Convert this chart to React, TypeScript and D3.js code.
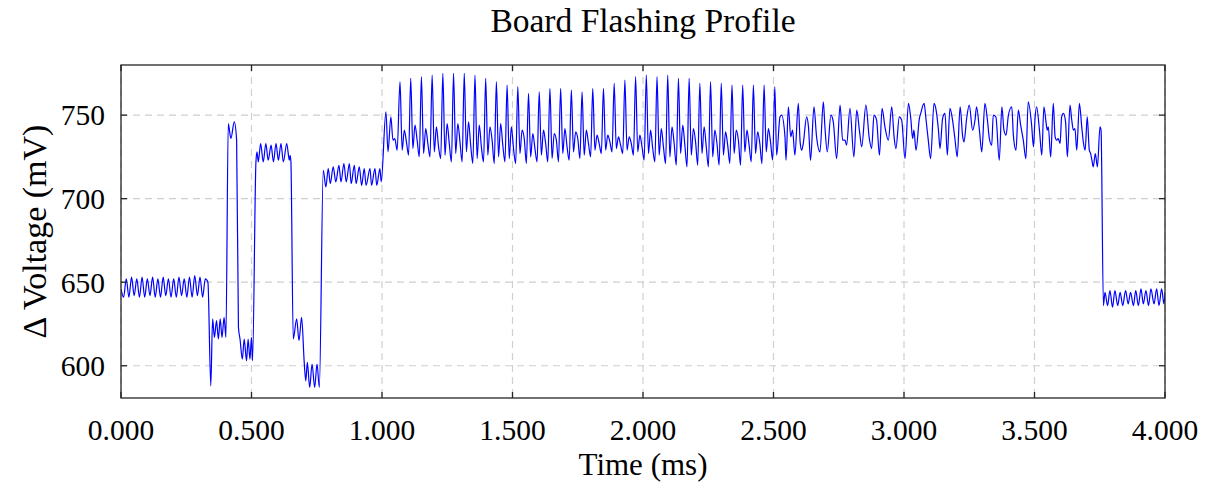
import React from "react";
import * as d3 from "d3";

const WIDTH = 1209;
const HEIGHT = 482;
const PLOT = { left: 121, right: 1165, top: 65, bottom: 398 };

const TITLE = "Board Flashing Profile";
const X_LABEL = "Time (ms)";
const Y_LABEL = "Δ Voltage (mV)";

const X_DOMAIN: [number, number] = [0, 4];
const Y_DOMAIN: [number, number] = [580.7, 780];
const X_TICKS = [0, 0.5, 1, 1.5, 2, 2.5, 3, 3.5, 4];
const Y_TICKS = [600, 650, 700, 750];

// Idle level before flashing starts, sampled evenly across its span (ms, mV).
const idleStartSpan: [number, number] = [0, 0.333];
const idleStart = [
  646, 641, 652, 641, 653, 642, 652, 641, 653, 641, 652, 642, 653, 641, 652, 641, 653,
  642, 652, 641, 652, 641, 653, 642, 652, 641, 653, 641, 654, 642, 653, 641, 652, 650,
];

// Erase / setup steps between the idle level and the write phase (ms, mV).
const setupSteps: [number, number][] = [
  [0.344, 588], [0.351, 628], [0.358, 617], [0.366, 627], [0.373, 616], [0.38, 628],
  [0.387, 617], [0.395, 629], [0.402, 617],
  [0.411, 745], [0.421, 736], [0.434, 746], [0.443, 735],
  [0.45, 623], [0.456, 616], [0.465, 604], [0.472, 616], [0.481, 603], [0.487, 616],
  [0.494, 604], [0.5, 617], [0.504, 603],
  [0.517, 722], [0.521, 728], [0.526, 722], [0.535, 733], [0.545, 722], [0.555, 733],
  [0.564, 723], [0.575, 732], [0.584, 722], [0.594, 733], [0.603, 723], [0.613, 733],
  [0.622, 722], [0.635, 733], [0.645, 723], [0.648, 726], [0.651, 722],
  [0.66, 616], [0.673, 628], [0.682, 615], [0.692, 629],
  [0.702, 602], [0.708, 591], [0.714, 602], [0.723, 587], [0.732, 601], [0.742, 587],
  [0.751, 601], [0.76, 587],
  [0.775, 717], [0.785, 707], [0.794, 718], [0.802, 709], [0.813, 719], [0.823, 710],
  [0.835, 720], [0.843, 710], [0.854, 721], [0.863, 710], [0.875, 721], [0.882, 709],
  [0.894, 720], [0.901, 709], [0.913, 719], [0.922, 708], [0.932, 718], [0.939, 708],
  [0.954, 718], [0.96, 708], [0.973, 718], [0.98, 708], [0.992, 718], [0.997, 710],
  [1.015, 752], [1.023, 728], [1.034, 749], [1.042, 735], [1.049, 736], [1.058, 729],
];

// Page-write bursts: each cycle is spike, dip, bump, shoulder, trough; evenly sampled.
const writeBurstSpan: [number, number] = [1.069, 2.505];
const writeBursts = [
  770, 729, 741, 734, 726,
  772, 730, 744, 735, 725,
  773, 727, 742, 733, 725,
  774, 728, 743, 731, 724,
  775, 726, 745, 733, 722,
  775, 727, 745, 734, 722,
  775, 728, 746, 732, 721,
  774, 724, 744, 731, 722,
  772, 726, 743, 735, 721,
  770, 725, 745, 732, 722,
  768, 724, 743, 730, 721,
  767, 727, 741, 736, 721,
  763, 725, 739, 730, 722,
  764, 726, 741, 733, 722,
  766, 724, 739, 735, 722,
  766, 727, 742, 731, 723,
  765, 728, 740, 736, 724,
  764, 726, 741, 733, 725,
  766, 729, 738, 733, 727,
  766, 729, 738, 734, 728,
  769, 730, 737, 732, 727,
  771, 729, 737, 733, 726,
  773, 728, 738, 731, 723,
  774, 727, 741, 730, 722,
  773, 726, 742, 731, 721,
  774, 725, 743, 733, 720,
  772, 727, 744, 732, 719,
  772, 726, 742, 734, 720,
  769, 727, 743, 731, 719,
  770, 725, 741, 733, 720,
  769, 726, 740, 732, 721,
  768, 727, 741, 735, 720,
  768, 728, 741, 732, 722,
  768, 727, 740, 733, 721,
  768, 728, 742, 734, 723,
  767,
];

// Verify phase after the writes (ms, mV).
const verifyPhase: [number, number][] = [
  [2.512, 726], [2.525, 749], [2.531, 750], [2.544, 737], [2.548, 723], [2.557, 755],
  [2.566, 737], [2.573, 741], [2.582, 726], [2.595, 757], [2.602, 734], [2.608, 729],
  [2.614, 733], [2.627, 749], [2.634, 743], [2.642, 723], [2.655, 755], [2.665, 737],
  [2.678, 728], [2.691, 758], [2.697, 743], [2.706, 728], [2.72, 750], [2.729, 746],
  [2.742, 724], [2.755, 756], [2.765, 735], [2.774, 735], [2.78, 732], [2.793, 754],
  [2.808, 725], [2.819, 753], [2.829, 741], [2.838, 731], [2.854, 756], [2.867, 736],
  [2.876, 730], [2.885, 750], [2.895, 747], [2.906, 726], [2.916, 754], [2.927, 743],
  [2.94, 735], [2.953, 755], [2.962, 737], [2.969, 730], [2.982, 749], [2.991, 747],
  [3.004, 724], [3.017, 757], [3.026, 748], [3.033, 736], [3.038, 741], [3.046, 729],
  [3.059, 748], [3.064, 751], [3.077, 757], [3.084, 748], [3.093, 735], [3.102, 724],
  [3.115, 757], [3.123, 753], [3.132, 741], [3.138, 730], [3.148, 748], [3.157, 751],
  [3.166, 726], [3.176, 754], [3.186, 747], [3.195, 736], [3.204, 725], [3.215, 755],
  [3.225, 737], [3.23, 734], [3.24, 748], [3.25, 756], [3.263, 741], [3.272, 747],
  [3.278, 755], [3.289, 741], [3.298, 728], [3.31, 757], [3.319, 748], [3.327, 736],
  [3.336, 732], [3.342, 750], [3.352, 749], [3.365, 723], [3.375, 755], [3.383, 741],
  [3.391, 738], [3.4, 750], [3.413, 755], [3.419, 738], [3.429, 729], [3.438, 753],
  [3.447, 744], [3.457, 735], [3.467, 724], [3.476, 758], [3.489, 744], [3.496, 731],
  [3.502, 748], [3.508, 755], [3.519, 741], [3.528, 726], [3.536, 755], [3.544, 746],
  [3.549, 741], [3.553, 743], [3.562, 725], [3.572, 757], [3.579, 737], [3.585, 735],
  [3.591, 736], [3.598, 733], [3.604, 749], [3.611, 751], [3.619, 746], [3.626, 725],
  [3.636, 756], [3.642, 748], [3.649, 741], [3.655, 742], [3.662, 729], [3.672, 757],
  [3.681, 743], [3.687, 734], [3.694, 729], [3.702, 749], [3.71, 729], [3.715, 727],
  [3.72, 723], [3.725, 719], [3.733, 727], [3.741, 719], [3.751, 743], [3.755, 741],
];

// Back to idle once flashing is done (ms, mV).
const idleEnd: [number, number][] = [
  [3.764, 636], [3.77, 644], [3.78, 636], [3.789, 645], [3.799, 635], [3.808, 645],
  [3.819, 636], [3.828, 644], [3.838, 636], [3.849, 645], [3.859, 637], [3.868, 644],
  [3.879, 636], [3.888, 645], [3.898, 636], [3.908, 646], [3.917, 637], [3.927, 645],
  [3.937, 636], [3.946, 646], [3.958, 637], [3.968, 646], [3.977, 636], [3.987, 646],
  [3.996, 637], [4.0, 644],
];

function spread(span: [number, number], values: number[]): [number, number][] {
  const step = (span[1] - span[0]) / (values.length - 1);
  return values.map((v, i) => [span[0] + i * step, v]);
}

const profile: [number, number][] = [
  ...spread(idleStartSpan, idleStart),
  ...setupSteps,
  ...spread(writeBurstSpan, writeBursts),
  ...verifyPhase,
  ...idleEnd,
].sort((a, b) => a[0] - b[0]);

const FONT = "'Liberation Serif', 'Times New Roman', serif";

export default function App() {
  const x = d3.scaleLinear().domain(X_DOMAIN).range([PLOT.left, PLOT.right]);
  const y = d3.scaleLinear().domain(Y_DOMAIN).range([PLOT.bottom, PLOT.top]);
  const line = d3
    .line<[number, number]>()
    .x((d) => x(d[0]))
    .y((d) => y(d[1]))
    .curve(d3.curveMonotoneX);
  const fmt = d3.format(".3f");
  const tick = 6;
  const cx = (PLOT.left + PLOT.right) / 2;
  const cy = (PLOT.top + PLOT.bottom) / 2;

  return (
    <div style={{ position: "absolute", left: 0, top: 0 }}>
      <svg width={WIDTH} height={HEIGHT} viewBox={`0 0 ${WIDTH} ${HEIGHT}`} style={{ display: "block", background: "#fff" }}>
        <defs>
          <clipPath id="plot-clip">
            <rect x={PLOT.left} y={PLOT.top} width={PLOT.right - PLOT.left} height={PLOT.bottom - PLOT.top} />
          </clipPath>
        </defs>

        {/* grid */}
        <g stroke="#cfcfcf" strokeWidth={1.2} strokeDasharray="7 5" fill="none">
          {X_TICKS.map((t) => (
            <line key={`gx${t}`} x1={x(t)} x2={x(t)} y1={PLOT.top} y2={PLOT.bottom} />
          ))}
          {Y_TICKS.map((t) => (
            <line key={`gy${t}`} x1={PLOT.left} x2={PLOT.right} y1={y(t)} y2={y(t)} />
          ))}
        </g>

        {/* signal */}
        <path d={line(profile) ?? ""} fill="none" stroke="#0000ff" strokeWidth={1.2} strokeLinejoin="round" clipPath="url(#plot-clip)" />

        {/* frame and inward ticks */}
        <g stroke="#262626" strokeWidth={1.3} fill="none">
          <rect x={PLOT.left} y={PLOT.top} width={PLOT.right - PLOT.left} height={PLOT.bottom - PLOT.top} />
          {X_TICKS.map((t) => (
            <g key={`tx${t}`}>
              <line x1={x(t)} x2={x(t)} y1={PLOT.bottom} y2={PLOT.bottom - tick} />
              <line x1={x(t)} x2={x(t)} y1={PLOT.top} y2={PLOT.top + tick} />
            </g>
          ))}
          {Y_TICKS.map((t) => (
            <g key={`ty${t}`}>
              <line x1={PLOT.left} x2={PLOT.left + tick} y1={y(t)} y2={y(t)} />
              <line x1={PLOT.right} x2={PLOT.right - tick} y1={y(t)} y2={y(t)} />
            </g>
          ))}
        </g>

        {/* tick labels */}
        <g fontFamily={FONT} fontSize={29.5} fill="#000">
          {X_TICKS.map((t) => (
            <text key={`lx${t}`} x={x(t)} y={440} textAnchor="middle">
              {fmt(t)}
            </text>
          ))}
          {Y_TICKS.map((t) => (
            <text key={`ly${t}`} x={105} y={y(t)} dy="0.35em" textAnchor="end">
              {t}
            </text>
          ))}
        </g>

        {/* title and axis labels */}
        <g fontFamily={FONT} fill="#000">
          <text x={cx} y={32} textAnchor="middle" fontSize={33.5}>{TITLE}</text>
          <text x={cx} y={475} textAnchor="middle" fontSize={31}>{X_LABEL}</text>
          <text transform={`translate(46, ${cy}) rotate(-90)`} textAnchor="middle" fontSize={34}>{Y_LABEL}</text>
        </g>
      </svg>
    </div>
  );
}
